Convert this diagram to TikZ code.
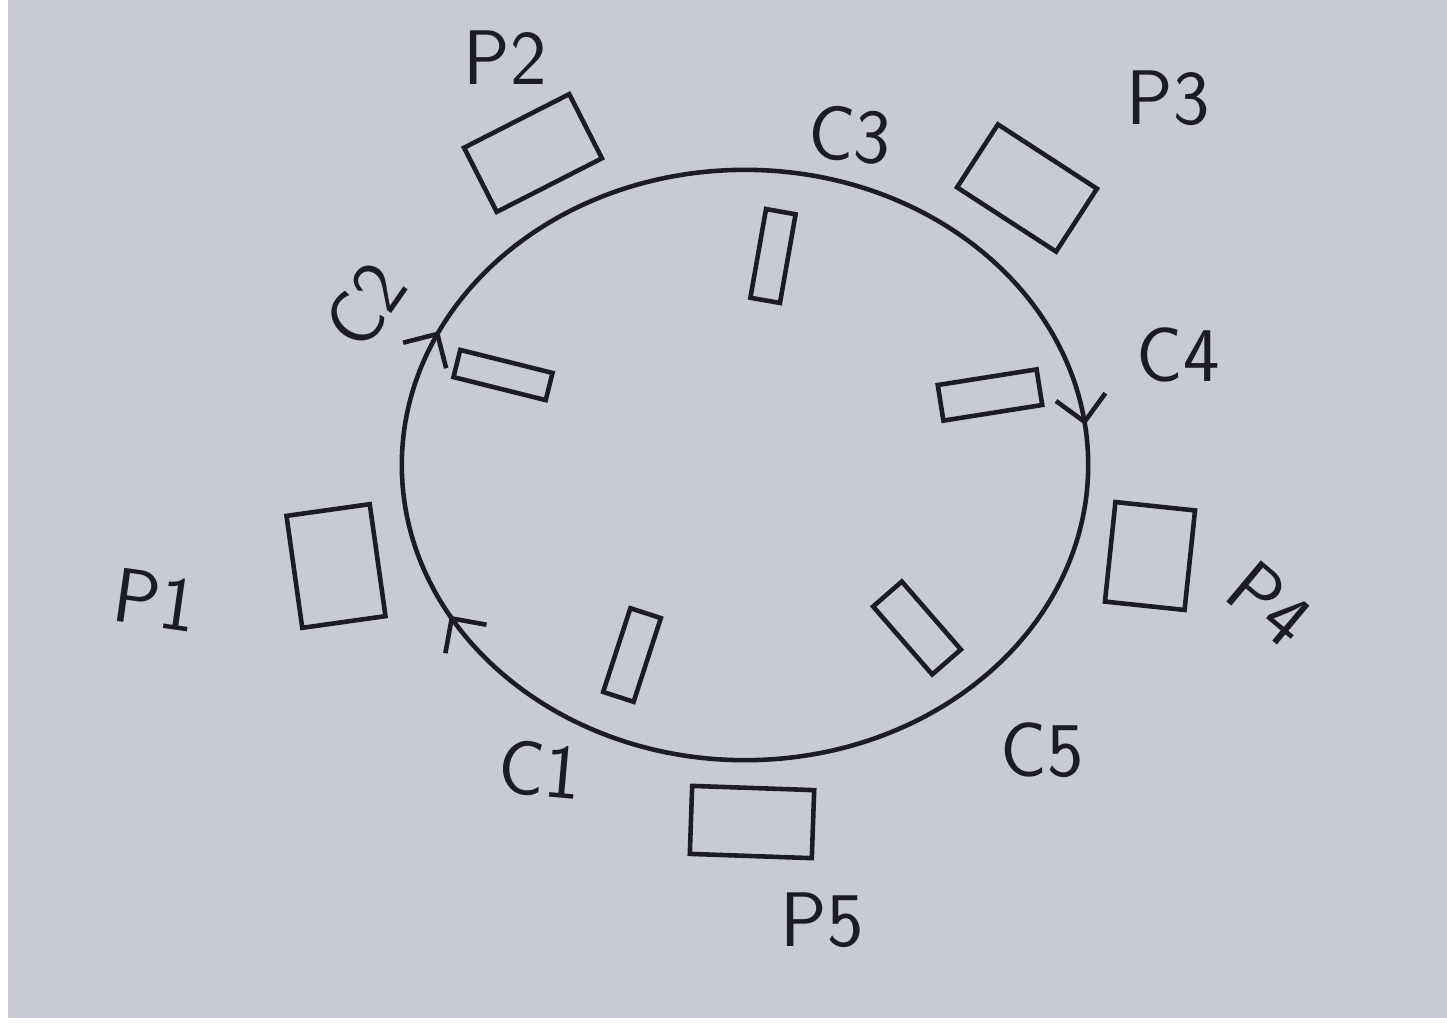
\documentclass[tikz,border=0pt]{standalone}
\usepackage{tikz}
\usetikzlibrary{arrows.meta,decorations.markings}

\definecolor{paper}{RGB}{200,203,212}
\definecolor{ink}{RGB}{28,28,34}

\begin{document}
\begin{tikzpicture}[x=0.01cm, y=-0.01cm,
    philo/.style={draw=ink, line width=1.3pt, rectangle, inner sep=0pt},
    stick/.style={draw=ink, line width=1.3pt, rectangle, inner sep=0pt, minimum width=0.3cm, minimum height=0.9cm},
    lbl/.style={text=ink, inner sep=1pt, font=\fontsize{22}{26}\selectfont\sffamily},
    table/.style={draw=ink, line width=1.3pt,
      decoration={markings,
        mark=at position 0.02 with {\arrowreversed{Straight Barb[length=2.5mm]}},
        mark=at position 0.43 with {\arrowreversed{Straight Barb[length=2.5mm]}},
        mark=at position 0.58 with {\arrowreversed{Straight Barb[length=2.5mm]}}},
      postaction={decorate}}
]
\useasboundingbox (0,0) rectangle (1447,1026);
\fill[white] (0,0) rectangle (1447,1026);
\fill[paper] (8,0) rectangle (1447,1018);

% Round table
\coordinate (centre) at (745,465);
\draw[table] (centre) ellipse (3.43cm and 2.95cm);

% Philosophers
\node[philo, minimum width=0.84cm, minimum height=1.13cm, rotate=8] (p1) at (336,566) {};
\node[philo, minimum width=1.18cm, minimum height=0.72cm, rotate=27] (p2) at (533,153) {};
\node[philo, minimum width=1.18cm, minimum height=0.75cm, rotate=-33] (p3) at (1027,188) {};
\node[philo, minimum width=0.80cm, minimum height=1.00cm, rotate=-6] (p4) at (1150,556) {};
\node[philo, minimum width=1.22cm, minimum height=0.68cm, rotate=-2] (p5) at (752,822) {};

% Chopsticks
\node[stick, minimum width=0.32cm, minimum height=0.88cm, rotate=-18] (c1) at (632,655) {};
\node[stick, minimum width=0.95cm, minimum height=0.28cm, rotate=-14] (c2) at (503,375) {};
\node[stick, minimum width=0.30cm, minimum height=0.90cm, rotate=-10] (c3) at (773,256) {};
\node[stick, minimum width=1.00cm, minimum height=0.36cm, rotate=9] (c4) at (990,395) {};
\node[stick, minimum width=0.90cm, minimum height=0.38cm, rotate=-49] (c5) at (917,628) {};

% Labels
\node[lbl, rotate=-8] (p1lbl) at (155,600) {P1};
\node[lbl] (p2lbl) at (505,58) {P2};
\node[lbl] (p3lbl) at (1168,98) {P3};
\node[lbl, rotate=-40] (p4lbl) at (1270,604) {P4};
\node[lbl] (p5lbl) at (822,920) {P5};
\node[lbl, rotate=-5] (c1lbl) at (540,770) {C1};
\node[lbl, rotate=55] (c2lbl) at (365,305) {C2};
\node[lbl, rotate=-5] (c3lbl) at (850,135) {C3};
\node[lbl] (c4lbl) at (1178,355) {C4};
\node[lbl] (c5lbl) at (1042,750) {C5};

\end{tikzpicture}
\end{document}
